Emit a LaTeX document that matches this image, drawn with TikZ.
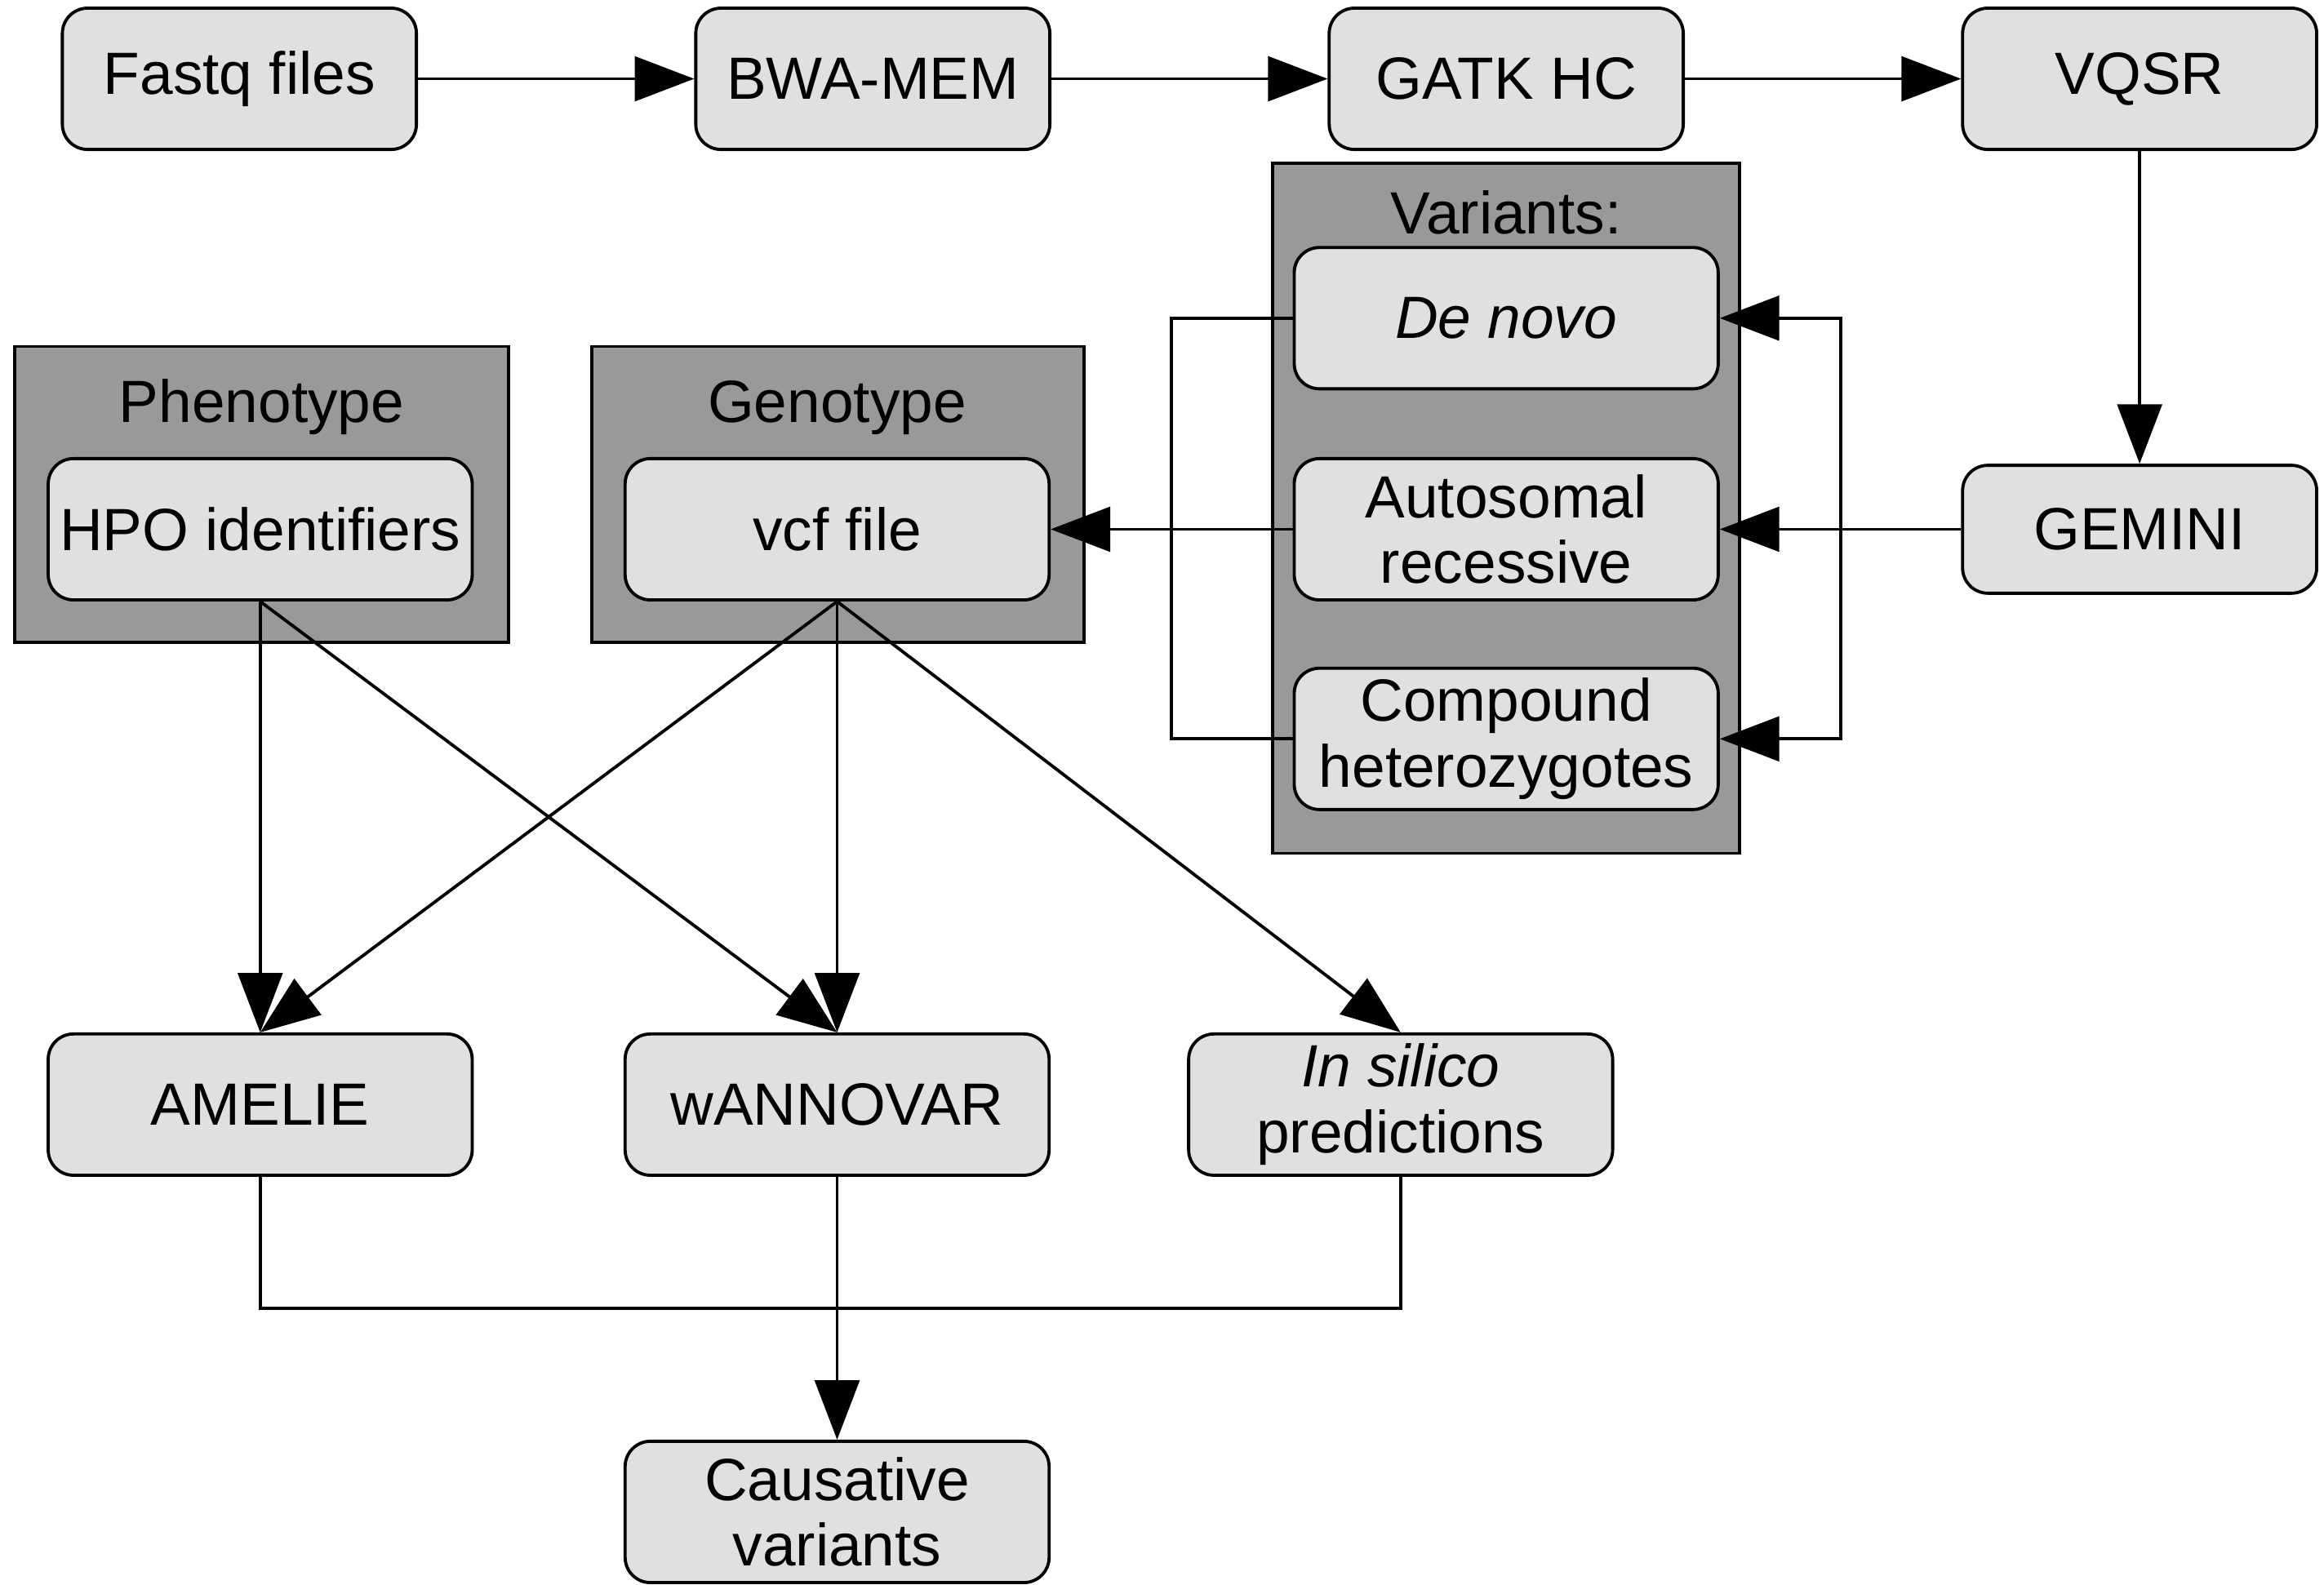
\documentclass[tikz,border=0pt]{standalone}
\usepackage{fontspec}
\setmainfont{Liberation Sans}
\usetikzlibrary{arrows.meta}
\begin{document}
\begin{tikzpicture}[x=0.01cm,y=-0.01cm,
  font=\fontsize{11.4}{12.6}\selectfont,
  box/.style={draw=black,line width=0.6pt,fill=boxfill,rounded corners=0.17cm,minimum width=2.85cm,minimum height=0.95cm,inner sep=0pt,align=center},
  top/.style={box,minimum width=2.38cm},
  dark/.style={draw=black,line width=0.6pt,fill=darkfill},
  arr/.style={line width=0.6pt,-{Triangle[length=0.4cm,width=0.3cm]}},
  ln/.style={line width=0.6pt}]
\definecolor{boxfill}{HTML}{E0E0E0}
\definecolor{darkfill}{HTML}{999999}
\useasboundingbox (0,0) rectangle (1563,1066);
% dark containers
\draw[dark] (856,110) rectangle (1170,574);
\draw[dark] (10,233) rectangle (342,432);
\draw[dark] (398,233) rectangle (729,432);
\node (varl) at (1013,143) {Variants:};
\node (phl) at (176,274) {Phenotype};
\node (gel) at (563,274) {Genotype};
% boxes
\node[top] (fq) at (161,53) {Fastq files};
\node[top] (bwa) at (587,53) {BWA-MEM};
\node[top] (gatk) at (1013,53) {GATK HC};
\node[top] (vqsr) at (1439,53) {VQSR};
\node[top,minimum height=0.86cm] (gem) at (1439,356) {GEMINI};
\node[box] (dn) at (1013,214) {\itshape De novo};
\node[box] (ar) at (1013,356) {Autosomal\\recessive};
\node[box] (ch) at (1013,497) {Compound\\heterozygotes};
\node[box] (hpo) at (175,356) {HPO identifiers};
\node[box] (vcf) at (563,356) {vcf file};
\node[box] (am) at (175,743) {AMELIE};
\node[box] (wa) at (563,743) {wANNOVAR};
\node[box] (is) at (942,743) {\itshape In silico\\predictions};
\node[box] (cv) at (563,1017) {Causative\\variants};
% connectors
\draw[arr] (fq) -- (bwa);
\draw[arr] (bwa) -- (gatk);
\draw[arr] (gatk) -- (vqsr);
\draw[arr] (vqsr) -- (gem);
\draw[arr] (gem) -- (ar);
\coordinate (rb) at (1238,356);
\draw[arr] (rb) |- (dn.east);
\draw[arr] (rb) |- (ch.east);
\coordinate (lb) at (788,356);
\draw[ln] (dn.west) -| (788,497) -- (ch.west);
\draw[arr] (ar) -- (vcf);
\draw[arr] (hpo.south) -- (am.north);
\draw[arr] (hpo.south) -- (wa.north);
\draw[arr] (vcf.south) -- (am.north);
\draw[arr] (vcf.south) -- (wa.north);
\draw[arr] (vcf.south) -- (is.north);
\coordinate (jn) at (563,880);
\draw[ln] (am.south) |- (jn) -| (is.south);
\draw[arr] (wa.south) -- (cv.north);
\end{tikzpicture}
\end{document}
